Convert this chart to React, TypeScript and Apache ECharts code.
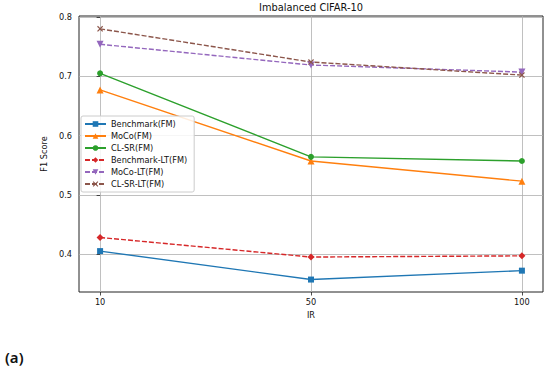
import React, { useEffect, useRef } from "react";
import * as echarts from "echarts";

const irLabels = ["10", "50", "100"];
const yTicks = [0.4, 0.5, 0.6, 0.7, 0.8];
const benchmarkFM = [0.405, 0.357, 0.372];
const mocoFM = [0.677, 0.557, 0.523];
const clsrFM = [0.705, 0.564, 0.557];
const benchmarkLT = [0.428, 0.395, 0.397];
const mocoLT = [0.754, 0.719, 0.707];
const clsrLT = [0.78, 0.724, 0.702];

const FONT = "DejaVu Sans";
const TRI_DOWN = "path://M0,0L10,0L5,9Z";
const XMARK = "path://M0,1.4L1.4,0L5,3.6L8.6,0L10,1.4L6.4,5L10,8.6L8.6,10L5,6.4L1.4,10L0,8.6L3.6,5Z";

function mk(name: string, vals: number[], color: string, symbol: string, size: number, dashed: boolean) {
  return {
    name,
    type: "line",
    data: vals.map((v, i) => [i, v]),
    symbol,
    symbolSize: size,
    itemStyle: { color },
    lineStyle: { color, width: 1.4, type: dashed ? [5, 2] : "solid" },
    z: 3,
  };
}

export default function App() {
  const ref = useRef<HTMLDivElement>(null);
  useEffect(() => {
    if (!ref.current) return;
    const chart = echarts.init(ref.current, null, { renderer: "svg" });
    chart.setOption({
      animation: false,
      grid: {
        left: 79,
        right: 7,
        top: 16,
        bottom: 76,
        show: true,
        borderColor: "#222",
        borderWidth: 1,
        backgroundColor: "transparent",
      },
      graphic: [
        {
          type: "text",
          x: 311,
          y: 7,
          style: {
            text: "Imbalanced CIFAR-10",
            fontFamily: FONT,
            fontSize: 9.8,
            fill: "#111",
            align: "center",
            verticalAlign: "middle",
          },
        },
        {
          type: "text",
          x: 5,
          y: 357,
          style: {
            text: "(a)",
            fontFamily: "Noto Sans",
            fontSize: 15,
            fontWeight: 600,
            fill: "#111",
            align: "left",
            verticalAlign: "middle",
          },
        },
      ],
      legend: {
        orient: "vertical",
        left: 81,
        top: 116,
        padding: [2, 7, 2, 3],
        itemGap: 0,
        itemWidth: 21,
        itemHeight: 7,
        backgroundColor: "rgba(255,255,255,0.85)",
        borderColor: "#cccccc",
        borderWidth: 1,
        borderRadius: 2,
        textStyle: { fontFamily: FONT, fontSize: 8.2, color: "#111", lineHeight: 12 },
        data: [
          "Benchmark(FM)",
          "MoCo(FM)",
          "CL-SR(FM)",
          "Benchmark-LT(FM)",
          "MoCo-LT(FM)",
          "CL-SR-LT(FM)",
        ],
      },
      xAxis: {
        type: "value",
        min: -0.1,
        max: 2.1,
        name: "IR",
        nameLocation: "middle",
        nameGap: 15,
        nameTextStyle: { fontFamily: FONT, fontSize: 8.2, color: "#111" },
        axisLine: { show: false },
        axisTick: { show: true, length: 3.5, customValues: [0, 1, 2], lineStyle: { color: "#222", width: 0.8 } },
        axisLabel: {
          customValues: [0, 1, 2],
          margin: 6,
          fontFamily: FONT,
          fontSize: 8.2,
          color: "#111",
          formatter: (v: number) => irLabels[Math.round(v)] ?? "",
        },
        splitLine: { show: true, lineStyle: { color: "#b0b0b0", width: 0.8 } },
      },
      yAxis: {
        type: "value",
        min: 0.336,
        max: 0.8017,
        name: "F1 Score",
        nameLocation: "middle",
        nameGap: 24,
        nameTextStyle: { fontFamily: FONT, fontSize: 8.2, color: "#111" },
        axisLine: { show: false },
        axisTick: { show: true, length: 3.5, customValues: yTicks, lineStyle: { color: "#222", width: 0.8 } },
        axisLabel: {
          customValues: yTicks,
          margin: 7,
          fontFamily: FONT,
          fontSize: 8.2,
          color: "#111",
          formatter: (v: number) => v.toFixed(1),
        },
        splitLine: { show: true, lineStyle: { color: "#b0b0b0", width: 0.8 } },
      },
      series: [
        mk("Benchmark(FM)", benchmarkFM, "#1f77b4", "rect", 6, false),
        mk("MoCo(FM)", mocoFM, "#ff7f0e", "triangle", 7, false),
        mk("CL-SR(FM)", clsrFM, "#2ca02c", "circle", 6, false),
        mk("Benchmark-LT(FM)", benchmarkLT, "#d62728", "diamond", 7, true),
        mk("MoCo-LT(FM)", mocoLT, "#9467bd", TRI_DOWN, 7, true),
        mk("CL-SR-LT(FM)", clsrLT, "#8c564b", XMARK, 6, true),
      ],
    });
    return () => chart.dispose();
  }, []);
  return (
    <div
      ref={ref}
      style={{ position: "fixed", left: 0, top: 0, width: 550, height: 368, background: "#fff" }}
    />
  );
}
